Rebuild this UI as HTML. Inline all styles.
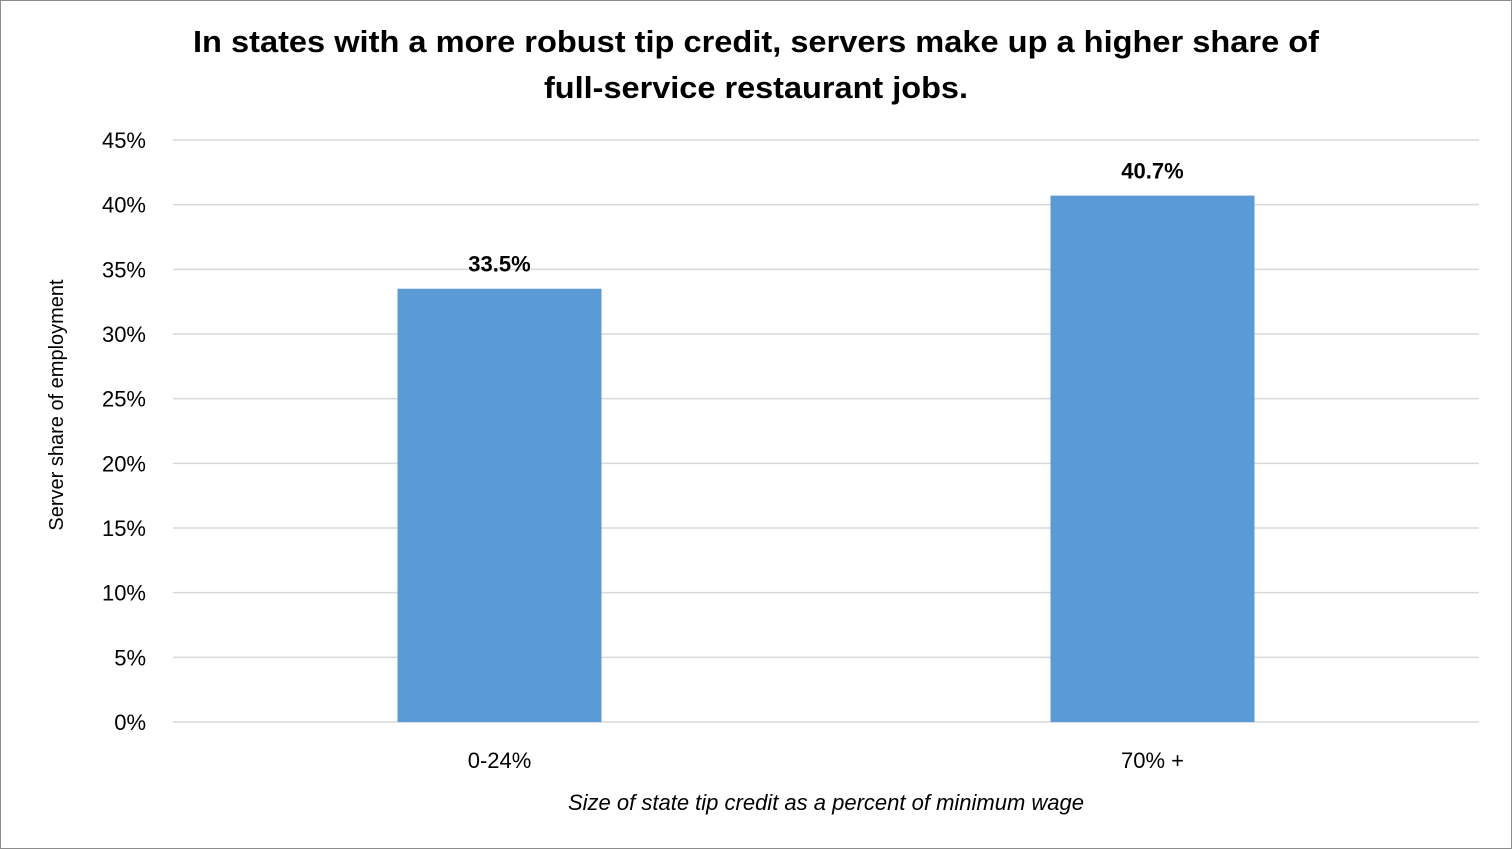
<!DOCTYPE html>
<html><head><meta charset="utf-8"><style>
html,body{margin:0;padding:0;background:#fff}
svg{display:block}
text{font-family:"Liberation Sans",sans-serif}
</style></head><body>
<svg id="chart" width="1512" height="849">
<rect x="0.5" y="0.5" width="1511" height="848" fill="#fff" stroke="#8c8c8c" stroke-width="1"/>
<text x="756" y="52" text-anchor="middle" font-size="31" font-weight="bold" textLength="1126" lengthAdjust="spacingAndGlyphs">In states with a more robust tip credit, servers make up a higher share of</text>
<text x="756" y="98" text-anchor="middle" font-size="31" font-weight="bold" textLength="424" lengthAdjust="spacingAndGlyphs">full-service restaurant jobs.</text>
<g id="grid"></g><g id="bars"></g>
<text transform="translate(63,405) rotate(-90)" text-anchor="middle" font-size="20">Server share of employment</text>
<text x="826" y="810" text-anchor="middle" font-size="22" font-style="italic">Size of state tip credit as a percent of minimum wage</text>
</svg>
<script>
const categories=["0-24%","70% +"];
const values=[33.5,40.7];
const valueLabels=["33.5%","40.7%"];
const yTicks=[0,5,10,15,20,25,30,35,40,45];
const NS="http://www.w3.org/2000/svg";
const x0=173,x1=1479,yBase=722,yTop=140,yMax=45;
const y=v=>yBase-(v/yMax)*(yBase-yTop);
const band=(x1-x0)/categories.length;
const g=document.getElementById('grid'),b=document.getElementById('bars');
function mk(tag,attrs,parent){const e=document.createElementNS(NS,tag);for(const k in attrs)e.setAttribute(k,attrs[k]);parent.appendChild(e);return e;}
yTicks.forEach(t=>{
  const l=mk('line',{x1:x0,x2:x1,y1:y(t),y2:y(t),stroke:'#d9d9d9','stroke-width':1.5},g);
  
  
  const tx=mk('text',{x:146,y:y(t)+8,'text-anchor':'end','font-size':22},g);
  tx.textContent=t+'%';
  
  
});
categories.forEach((c,i)=>{
  const cx=x0+band*(i+0.5),w=204;
  const r=mk('rect',{x:cx-w/2,y:y(values[i]),width:w,height:yBase-y(values[i]),fill:'#5b9bd5'},b);
  
  
  const vl=mk('text',{x:cx,y:y(values[i])-17,'text-anchor':'middle','font-size':22,'font-weight':'bold'},b);
  vl.textContent=valueLabels[i];
  
  
  const cl=mk('text',{x:cx,y:768,'text-anchor':'middle','font-size':22},b);
  cl.textContent=c;
  
  
});
</script>
</body></html>
